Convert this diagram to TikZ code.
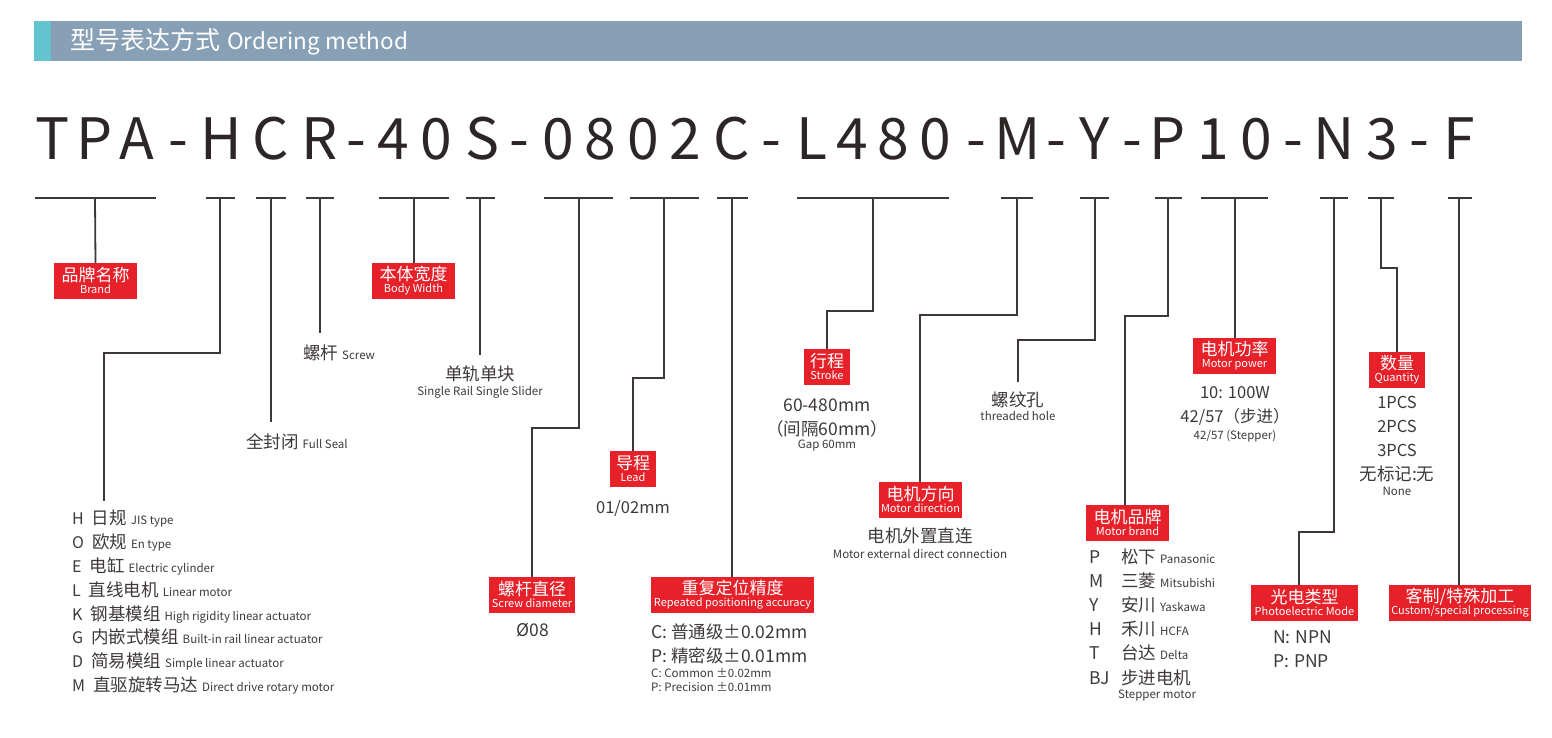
\documentclass[tikz,border=0pt]{standalone}
\usepackage{fontspec}
\setmainfont{Noto Sans CJK SC}
\newcommand\myfs[1]{\fontsize{#1}{#1}\selectfont}
\newcommand\mylab[2]{{\myfs{17}#1}\\#2\rule[-2pt]{0pt}{2pt}}
\definecolor{hdrgrey}{RGB}{135,160,181}
\definecolor{hdrteal}{RGB}{99,196,208}
\definecolor{boxred}{RGB}{230,33,42}
\definecolor{linec}{RGB}{62,56,56}
\definecolor{txtc}{RGB}{62,58,57}
\definecolor{titlec}{RGB}{45,38,38}
\begin{document}
\begin{tikzpicture}[x=1pt,y=-1pt,
  conn/.style={draw=linec,line width=1.8pt},
  redbox/.style={fill=boxred,text=white,inner xsep=2pt,inner ysep=0pt,minimum height=36pt,align=center,font=\fontsize{11}{12}\selectfont},
  titlech/.style={anchor=base,inner sep=0pt,text=titlec,font=\myfs{57}},
  body/.style={anchor=base,inner sep=0pt,text=txtc,font=\myfs{17.5}},
  small/.style={anchor=base,inner sep=0pt,text=txtc,font=\myfs{11.5}},
]
\useasboundingbox (0,0) rectangle (1552,738);
\fill[white] (0,0) rectangle (1552,738);
% header
\fill[hdrgrey] (34,21) rectangle (1522,61);
\fill[hdrteal] (34,21) rectangle (51,61);
\node[anchor=base west,inner sep=0pt,text=white] (hdr) at (70,50) {{\myfs{25}型号表达方式}\hspace{7pt}{\myfs{22.5}Ordering method}};
% title
\foreach \x/\ch [count=\i] in {53/T,95/P,137/A,178/-,221/H,271/C,320/R,356/-,393/4,436/0,482/S,519/-,558/0,600/8,643/0,685/2,732/C,771/-,812/L,852/4,893/8,935/0,976/-,1018/M,1056/-,1095/Y,1132/-,1168/P,1213/1,1256/0,1293/-,1334/N,1382/3,1419/-,1459/F}
  \node[titlech] (t\i) at (\x,160) {\ch};
% bars
\foreach \i/\l/\r/\s in {1/35/156/95,2/206/235/220,3/256/286/271,4/306/334/320,5/379/449/414,6/466/495/480,7/544/613/579,8/630/699/664,9/717/748/732,10/797/949/873,11/1001/1033/1017,12/1080/1109/1095,13/1155/1182/1168,14/1201/1268/1235,15/1320/1348/1334,16/1368/1394/1381,17/1448/1472/1459}{
  \coordinate (bl\i) at (\l,198);
  \coordinate (br\i) at (\r,198);
  \coordinate (s\i) at (\s,198);
  \draw[conn] (bl\i) -- (br\i);
}
% red boxes
\node[redbox,minimum width=83pt] (brand) at (95.5,281) {\mylab{品牌名称}{Brand}};
\node[redbox,minimum width=83pt] (body) at (413.5,281) {\mylab{本体宽度}{Body Width}};
\node[redbox,minimum width=86pt] (sdia) at (532,595) {\mylab{螺杆直径}{Screw diameter}};
\node[redbox,minimum width=46pt] (lead) at (633,469) {\mylab{导程}{Lead}};
\node[redbox,minimum width=163pt] (acc) at (732.5,595) {\mylab{重复定位精度}{Repeated positioning accuracy}};
\node[redbox,minimum width=46pt] (stroke) at (827,367) {\mylab{行程}{Stroke}};
\node[redbox,minimum width=83pt] (mdir) at (920.5,500) {\mylab{电机方向}{Motor direction}};
\node[redbox,minimum width=83pt] (mbrand) at (1127.5,523) {\mylab{电机品牌}{Motor brand}};
\node[redbox,minimum width=83pt] (power) at (1234.5,356) {\mylab{电机功率}{Motor power}};
\node[redbox,minimum width=107pt] (photo) at (1304.5,603) {\mylab{光电类型}{Photoelectric Mode}};
\node[redbox,minimum width=56pt] (qty) at (1397,370) {\mylab{数量}{Quantity}};
\node[redbox,minimum width=134pt] (custom) at (1460,603) {\mylab{客制/特殊加工}{Custom/special processing}};
% connectors
\draw[conn] (s1) -- (brand.north);
\coordinate (c2a) at (220,353); \coordinate (c2b) at (104,353); \coordinate (e2) at (104,501);
\draw[conn] (s2) -- (c2a) -- (c2b) -- (e2);
\coordinate (e3) at (271,422); \draw[conn] (s3) -- (e3);
\coordinate (e4) at (320,333); \draw[conn] (s4) -- (e4);
\draw[conn] (s5) -- (s5 |- body.north);
\coordinate (e6) at (480,355); \draw[conn] (s6) -- (e6);
\coordinate (c7a) at (579,428); \coordinate (c7b) at (532,428);
\draw[conn] (s7) -- (c7a) -- (c7b) -- (sdia.north);
\coordinate (c8a) at (664,378); \coordinate (c8b) at (633,378);
\draw[conn] (s8) -- (c8a) -- (c8b) -- (lead.north);
\draw[conn] (s9) -- (s9 |- acc.north);
\coordinate (c10a) at (873,311); \coordinate (c10b) at (827,311);
\draw[conn] (s10) -- (c10a) -- (c10b) -- (stroke.north);
\coordinate (c11a) at (1017,315); \coordinate (c11b) at (920,315);
\draw[conn] (s11) -- (c11a) -- (c11b) -- (c11b |- mdir.north);
\coordinate (c12a) at (1095,340); \coordinate (c12b) at (1018,340); \coordinate (e12) at (1018,382);
\draw[conn] (s12) -- (c12a) -- (c12b) -- (e12);
\coordinate (c13a) at (1168,316); \coordinate (c13b) at (1125,316);
\draw[conn] (s13) -- (c13a) -- (c13b) -- (c13b |- mbrand.north);
\draw[conn] (s14) -- (s14 |- power.north);
\coordinate (c15a) at (1334,532); \coordinate (c15b) at (1299,532);
\draw[conn] (s15) -- (c15a) -- (c15b) -- (c15b |- photo.north);
\coordinate (c16a) at (1381,268); \coordinate (c16b) at (1397,268);
\draw[conn] (s16) -- (c16a) -- (c16b) -- (qty.north);
\draw[conn] (s17) -- (s17 |- custom.north);
% texts
\foreach \y/\lt/\ch/\en [count=\i] in {524/H/日规/JIS type,548/O/欧规/En type,572/E/电缸/Electric cylinder,596/L/直线电机/Linear motor,620/K/钢基模组/High rigidity linear actuator,643/G/内嵌式模组/Built-in rail linear actuator,667/D/简易模组/Simple linear actuator,691/M/直驱旋转马达/Direct drive rotary motor}
  \node[body,anchor=base west] (ty\i) at (72,\y) {{\myfs{16}\lt}\hspace{8pt}\ch\hspace{4pt}{\myfs{11.5}\en}};
\node[body,anchor=base west] (fullseal) at (246,448) {全封闭\hspace{4pt}{\myfs{11.5}Full Seal}};
\node[body,anchor=base west] (screw) at (303,359) {螺杆\hspace{4pt}{\myfs{11.5}Screw}};
\node[body] (srcn) at (480,380) {单轨单块};
\node[small] (sren) at (480,395) {Single Rail Single Slider};
\node[body] (sdiav) at (533,636) {Ø08};
\node[body,font=\myfs{16.5}] (leadv) at (633,513) {01/02mm};
\node[body,anchor=base west] (acc1) at (651,638) {C:\hspace{4pt}普通级±0.02mm};
\node[body,anchor=base west] (acc2) at (651,662) {P:\hspace{4pt}精密级±0.01mm};
\node[small,anchor=base west] (acc3) at (651,677) {C: Common ±0.02mm};
\node[small,anchor=base west] (acc4) at (651,691) {P: Precision ±0.01mm};
\node[body] (str1) at (827,411) {60-480mm};
\node[body] (str2) at (827,435) {（间隔60mm）};
\node[small] (str3) at (827,448) {Gap 60mm};
\node[body] (md1) at (920,542) {电机外置直连};
\node[small] (md2) at (920,558) {Motor external direct connection};
\node[body] (th1) at (1018,406) {螺纹孔};
\node[small] (th2) at (1018,420) {threaded hole};
\node[body,font=\myfs{16.5}] (pw1) at (1235,398) {10:\hspace{5pt}100W};
\node[body,font=\myfs{16.5}] (pw2) at (1235,422) {42/57（步进）};
\node[small] (pw3) at (1235,439) {42/57 (Stepper)};
\foreach \y/\lt/\ch/\en [count=\i] in {563/P/松下/Panasonic,587/M/三菱/Mitsubishi,611/Y/安川/Yaskawa,635/H/禾川/HCFA,659/T/台达/Delta}
  \node[body,anchor=base west] (mb\i) at (1089,\y) {\makebox[32pt][l]{\lt}\ch\hspace{4pt}{\myfs{11.5}\en}};
\node[body,anchor=base west] (mb6) at (1089,684) {\makebox[32pt][l]{BJ}步进电机};
\node[small,anchor=base west] (mb7) at (1118,698) {Stepper motor};
\node[body,anchor=base west] (pe1) at (1273,643) {N:\hspace{5pt}NPN};
\node[body,anchor=base west] (pe2) at (1273,667) {P:\hspace{5pt}PNP};
\node[body,font=\myfs{16.5}] (q1) at (1397,408) {1PCS};
\node[body,font=\myfs{16.5}] (q2) at (1397,432) {2PCS};
\node[body,font=\myfs{16.5}] (q3) at (1397,456) {3PCS};
\node[body] (q4) at (1397,480) {无标记:无};
\node[small] (q5) at (1397,495) {None};
\end{tikzpicture}
\end{document}
